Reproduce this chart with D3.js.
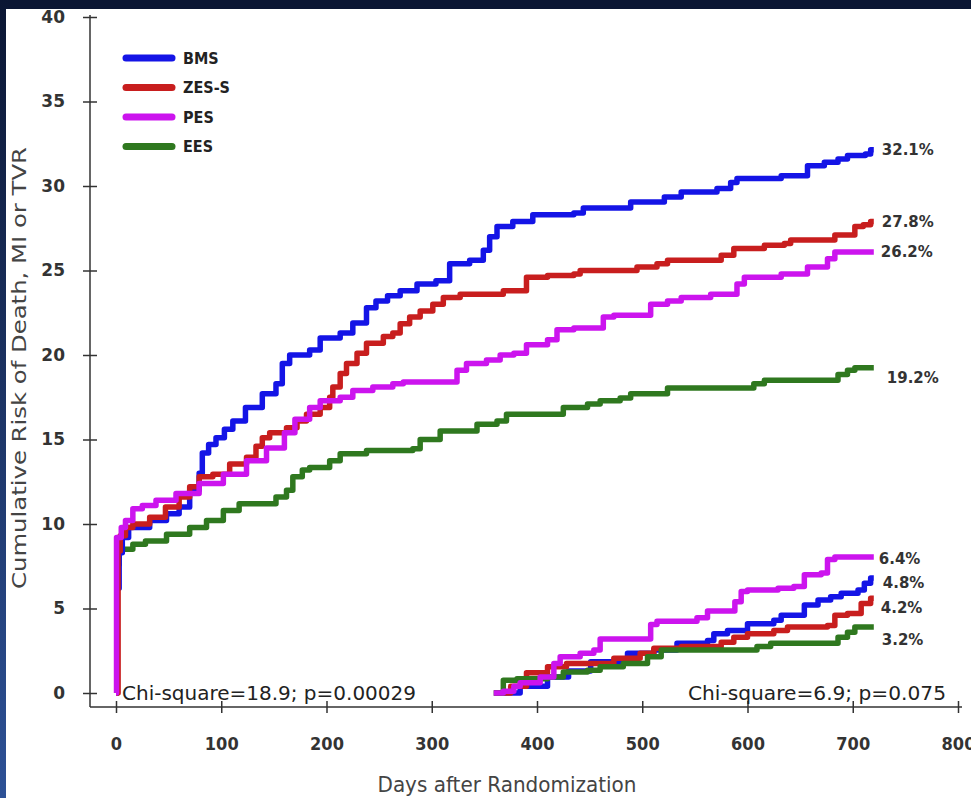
<!DOCTYPE html>
<html>
<head>
<meta charset="utf-8">
<script src="https://cdn.jsdelivr.net/npm/d3@7"></script>
<style>
  html, body { margin: 0; padding: 0; background: #0b1633; }
  svg { display: block; }
</style>
</head>
<body>
<script>
// series: [day, cumulative %]
var bmsAll = [[0,0],[1,6.2],[3,8.3],[6,9.2],[12,9.8],[32,10.2],[48,10.6],[60,11.0],[70,12.0],[79,13.0],[82,14.2],[88,14.7],[95,15.1],[103,15.6],[111,16.1],[123,16.9],[139,17.7],[152,18.3],[158,19.5],[165,20.0],[184,20.3],[194,21.0],[213,21.3],[225,21.9],[238,22.8],[247,23.2],[258,23.5],[270,23.8],[286,24.2],[304,24.4],[317,25.4],[336,25.6],[349,26.2],[355,27.0],[362,27.6],[377,27.9],[396,28.3],[435,28.4],[444,28.7],[489,29.05],[521,29.35],[537,29.65],[571,29.85],[584,30.2],[590,30.45],[632,30.6],[657,31.2],[673,31.4],[686,31.6],[695,31.8],[712,31.9],[717,32.15],[720,32.15]];
var zesAll = [[0,0],[2,8.4],[4,9.3],[9,9.8],[16,10.0],[32,10.4],[47,11.0],[60,11.6],[70,12.2],[79,12.8],[92,12.95],[108,13.55],[124,13.95],[133,14.6],[139,15.1],[146,15.4],[162,15.7],[172,16.1],[181,16.5],[194,16.9],[203,17.5],[206,18.1],[213,18.9],[219,19.5],[229,20.1],[238,20.7],[254,21.1],[263,21.3],[270,21.85],[279,22.25],[289,22.6],[301,23.0],[311,23.4],[327,23.6],[368,23.8],[390,24.6],[410,24.7],[435,24.8],[441,25.0],[495,25.2],[514,25.4],[524,25.6],[575,25.9],[587,26.3],[616,26.5],[635,26.6],[641,26.8],[683,27.1],[702,27.6],[710,27.7],[717,27.9],[720,27.9]];
var pesAll = [[0,0],[0.5,9.2],[5,9.8],[9,10.2],[16,10.9],[25,11.1],[38,11.4],[57,11.8],[79,12.4],[102,12.95],[124,13.75],[143,14.5],[160,15.4],[170,16.2],[184,16.9],[194,17.3],[213,17.5],[225,17.9],[244,18.1],[263,18.3],[273,18.4],[324,19.1],[333,19.5],[352,19.7],[365,20.0],[378,20.1],[390,20.6],[410,20.9],[419,21.5],[435,21.6],[463,22.25],[473,22.35],[508,23.0],[524,23.2],[537,23.4],[565,23.6],[590,24.2],[597,24.6],[632,24.8],[657,25.2],[676,25.7],[683,26.1],[720,26.1]];
var eesAll = [[0,0],[1,7.6],[3,8.5],[16,8.8],[28,9.0],[48,9.4],[70,9.8],[86,10.2],[102,10.8],[117,11.2],[152,11.6],[162,12.0],[168,12.8],[177,13.2],[184,13.35],[203,13.75],[213,14.15],[238,14.35],[282,14.45],[289,15.0],[308,15.5],[343,15.9],[362,16.1],[371,16.5],[425,16.9],[448,17.1],[460,17.3],[479,17.45],[489,17.7],[524,18.05],[606,18.3],[616,18.5],[686,18.85],[695,19.1],[702,19.25],[720,19.25]];

// landmark from day 360
var bmsLate = [[359,0],[384,0.4],[410,0.95],[430,1.3],[451,1.85],[479,2.0],[486,2.35],[511,2.55],[533,2.95],[562,3.1],[568,3.5],[581,3.7],[600,4.1],[625,4.3],[632,4.6],[654,5.2],[667,5.5],[679,5.7],[689,5.9],[705,6.1],[711,6.5],[717,6.8],[720,6.8]];
var zesLate = [[359,0],[375,0.4],[390,1.2],[410,1.55],[428,1.75],[473,2.05],[498,2.35],[511,2.65],[537,2.75],[575,3.0],[587,3.3],[600,3.5],[625,3.7],[638,3.9],[676,4.0],[683,4.6],[695,4.7],[708,5.3],[717,5.6],[720,5.6]];
var pesLate = [[359,0],[368,0.1],[378,0.4],[384,0.6],[403,0.95],[416,1.75],[422,2.15],[441,2.35],[454,2.55],[460,3.2],[508,4.05],[514,4.25],[552,4.45],[562,4.85],[588,5.4],[594,6.0],[600,6.1],[629,6.2],[644,6.3],[654,7.0],[670,7.1],[676,7.9],[683,8.05],[720,8.05]];
var eesLate = [[359,0],[368,0.75],[381,0.85],[410,0.95],[425,1.25],[448,1.35],[460,1.55],[482,1.75],[505,2.15],[518,2.55],[597,2.55],[609,2.75],[622,2.95],[676,2.95],[686,3.3],[695,3.6],[702,3.9],[720,3.9]];

var groups = ["BMS", "ZES-S", "PES", "EES"];
var groupColors = ["#1414e6", "#c81e1e", "#cc14ee", "#2f781f"];
var allLabels = ["32.1%", "27.8%", "26.2%", "19.2%"];
var lateLabels = ["4.8%", "4.2%", "6.4%", "3.2%"];
var xTicks = [0, 100, 200, 300, 400, 500, 600, 700, 800];
var yTicks = [0, 5, 10, 15, 20, 25, 30, 35, 40];
var statAll = "Chi-square=18.9; p=0.00029";
var statLate = "Chi-square=6.9; p=0.075";

var W = 971, H = 798;
var svg = d3.select("body").append("svg")
    .attr("width", W)
    .attr("height", H);

// dark frame with a bluish left edge
var defs = svg.append("defs");
var grad = defs.append("linearGradient")
    .attr("id", "edge")
    .attr("x1", 0).attr("y1", 0).attr("x2", 0).attr("y2", 1);
grad.append("stop").attr("offset", "0%").attr("stop-color", "#0b1633");
grad.append("stop").attr("offset", "100%").attr("stop-color", "#2d5196");

svg.append("rect").attr("width", W).attr("height", H).attr("fill", "#0b1633");
svg.append("rect").attr("width", 8).attr("height", H).attr("fill", "url(#edge)");
svg.append("rect")
    .attr("x", 6).attr("y", 9)
    .attr("width", W - 6).attr("height", H - 9)
    .attr("fill", "#ffffff");

var x = d3.scaleLinear().domain([0, 800]).range([116, 958]);
var y = d3.scaleLinear().domain([0, 40]).range([693, 17]);

var axisX = 90, axisY = 707;

// y axis
var gy = svg.append("g")
    .attr("transform", "translate(" + axisX + ",0)")
    .call(d3.axisLeft(y).tickValues(yTicks).tickSize(7).tickPadding(18));
gy.select(".domain").remove();
gy.selectAll(".tick line").attr("x1", 7).attr("stroke", "#333").attr("stroke-width", 1.5);
gy.selectAll(".tick text")
    .attr("font-family", "DejaVu Sans, Verdana, sans-serif")
    .attr("font-weight", "bold")
    .attr("font-size", 17)
    .attr("fill", "#333");

// x axis
var gx = svg.append("g")
    .attr("transform", "translate(0," + axisY + ")")
    .call(d3.axisBottom(x).tickValues(xTicks).tickSize(6).tickPadding(24));
gx.select(".domain").remove();
gx.selectAll(".tick line").attr("y1", -6).attr("stroke", "#333").attr("stroke-width", 1.5);
gx.selectAll(".tick text")
    .attr("font-family", "DejaVu Sans Condensed, DejaVu Sans, sans-serif")
    .attr("font-stretch", "condensed")
    .attr("font-weight", "bold")
    .attr("font-size", 18)
    .attr("fill", "#333");

svg.append("line")
    .attr("x1", axisX).attr("x2", axisX)
    .attr("y1", y(40) - 2).attr("y2", axisY)
    .attr("stroke", "#333").attr("stroke-width", 1.5);
svg.append("line")
    .attr("x1", axisX).attr("x2", x(800) + 4)
    .attr("y1", axisY).attr("y2", axisY)
    .attr("stroke", "#333").attr("stroke-width", 1.5);

// axis titles
svg.append("text")
    .attr("transform", "translate(26,368) rotate(-90)")
    .attr("text-anchor", "middle")
    .attr("font-family", "DejaVu Sans, Verdana, sans-serif")
    .attr("font-size", 19)
    .attr("fill", "#444")
    .attr("textLength", 442)
    .attr("lengthAdjust", "spacingAndGlyphs")
    .text("Cumulative Risk of Death, MI or TVR");

svg.append("text")
    .attr("x", 507).attr("y", 792)
    .attr("text-anchor", "middle")
    .attr("font-family", "DejaVu Sans, Verdana, sans-serif")
    .attr("font-size", 21)
    .attr("fill", "#444")
    .attr("textLength", 259)
    .attr("lengthAdjust", "spacingAndGlyphs")
    .text("Days after Randomization");

// curves
var line = d3.line()
    .x(function (d) { return x(d[0]); })
    .y(function (d) { return y(d[1]); })
    .curve(d3.curveStepAfter);

var allSeries = [bmsAll, zesAll, pesAll, eesAll];
var lateSeries = [bmsLate, zesLate, pesLate, eesLate];

[3, 0, 1, 2].forEach(function (i) {
    svg.append("path")
        .datum(allSeries[i])
        .attr("d", line)
        .attr("fill", "none")
        .attr("stroke", groupColors[i])
        .attr("stroke-width", 5.5)
        .attr("stroke-linejoin", "round");
});
[0, 1, 3, 2].forEach(function (i) {
    svg.append("path")
        .datum(lateSeries[i])
        .attr("d", line)
        .attr("fill", "none")
        .attr("stroke", groupColors[i])
        .attr("stroke-width", 5.5)
        .attr("stroke-linejoin", "round");
});

// end labels
var allNudge = [[8, 0], [8, 0], [7, 0], [13, 10]];
var lateNudge = [[9, 5], [7, 9], [5, 2], [8, 13]];
function endLabel(series, txt, nudge) {
    var last = series[series.length - 1];
    svg.append("text")
        .attr("x", x(last[0]) + nudge[0])
        .attr("y", y(last[1]) + nudge[1])
        .attr("dy", "0.36em")
        .attr("font-family", "DejaVu Sans, Verdana, sans-serif")
        .attr("font-weight", "bold")
        .attr("font-size", 15)
        .attr("fill", "#333")
        .text(txt);
}
allSeries.forEach(function (s, i) { endLabel(s, allLabels[i], allNudge[i]); });
lateSeries.forEach(function (s, i) { endLabel(s, lateLabels[i], lateNudge[i]); });

// legend
var legend = svg.append("g").attr("transform", "translate(126,58)");
groups.forEach(function (g, i) {
    var row = legend.append("g").attr("transform", "translate(0," + (i * 29.5) + ")");
    row.append("line")
        .attr("x1", 0).attr("x2", 46)
        .attr("stroke", groupColors[i])
        .attr("stroke-width", 7)
        .attr("stroke-linecap", "round");
    row.append("text")
        .attr("x", 57).attr("dy", "0.36em")
        .attr("font-family", "DejaVu Sans Condensed, DejaVu Sans, sans-serif")
        .attr("font-stretch", "condensed")
        .attr("font-weight", "bold")
        .attr("font-size", 16)
        .attr("fill", "#222")
        .text(g);
});

// test statistics
svg.append("text")
    .attr("x", 122).attr("y", 700)
    .attr("font-family", "DejaVu Sans Condensed, DejaVu Sans, sans-serif")
    .attr("font-stretch", "condensed")
    .attr("font-size", 19)
    .attr("fill", "#222")
    .attr("textLength", 294)
    .attr("lengthAdjust", "spacingAndGlyphs")
    .text(statAll);
svg.append("text")
    .attr("x", 688).attr("y", 700)
    .attr("font-family", "DejaVu Sans Condensed, DejaVu Sans, sans-serif")
    .attr("font-stretch", "condensed")
    .attr("font-size", 19)
    .attr("fill", "#222")
    .attr("textLength", 258)
    .attr("lengthAdjust", "spacingAndGlyphs")
    .text(statLate);
</script>
</body>
</html>
